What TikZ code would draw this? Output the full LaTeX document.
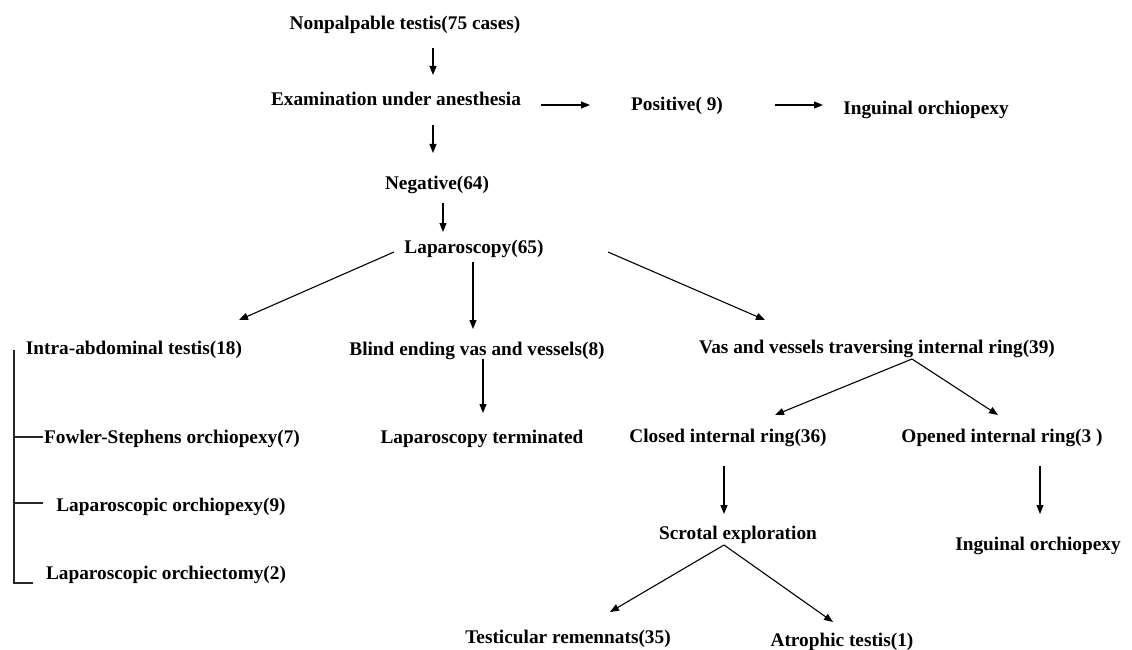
\documentclass[tikz,border=0pt]{standalone}
\usepackage{fontspec}
\setmainfont{Liberation Serif}
\usetikzlibrary{arrows.meta}
\tikzset{
  txt/.style={inner sep=0pt, anchor=base, font=\fontsize{19.3}{22}\selectfont\bfseries},
  arr/.style={line width=1.1pt, -{Triangle[length=9pt,width=7pt]}},
  brk/.style={line width=1.1pt, color=black!85}
}
\begin{document}
\begin{tikzpicture}[x=1pt,y=-1pt]
\useasboundingbox (0,0) rectangle (1132,650);
% nodes (base anchored)
\node[txt] (n1) at (405,30) {Nonpalpable testis(75 cases)};
\node[txt] (n2) at (396,106) {Examination under anesthesia};
\node[txt] (n3) at (677,111) {Positive( 9)};
\node[txt] (n4) at (926,115) {Inguinal orchiopexy};
\node[txt] (n5) at (437,189) {Negative(64)};
\node[txt] (n6) at (474,253) {Laparoscopy(65)};
\node[txt] (n7) at (134,354) {Intra-abdominal testis(18)};
\node[txt] (n8) at (477,355) {Blind ending vas and vessels(8)};
\node[txt] (n9) at (877,353) {Vas and vessels traversing internal ring(39)};
\node[txt] (n10) at (482,443) {Laparoscopy terminated};
\node[txt] (n11) at (728,442) {Closed internal ring(36)};
\node[txt] (n12) at (1002,442) {Opened internal ring(3 )};
\node[txt] (n13) at (738,539) {Scrotal exploration};
\node[txt] (n14) at (1038,550) {Inguinal orchiopexy};
\node[txt] (n15) at (568,643) {Testicular remennats(35)};
\node[txt] (n16) at (842,646) {Atrophic testis(1)};
\node[txt] (f1) at (172,443) {Fowler-Stephens orchiopexy(7)};
\node[txt] (f2) at (171,511) {Laparoscopic orchiopexy(9)};
\node[txt] (f3) at (166,579) {Laparoscopic orchiectomy(2)};
% connector end points
\coordinate (a1s) at (433,48);  \coordinate (a1e) at (433,75);
\coordinate (a2s) at (541,105); \coordinate (a2e) at (590,105);
\coordinate (a3s) at (775,105); \coordinate (a3e) at (823,105);
\coordinate (a4s) at (433,125); \coordinate (a4e) at (433,153);
\coordinate (a5s) at (443,203); \coordinate (a5e) at (443,232);
\coordinate (a6s) at (394,252); \coordinate (a6e) at (239,320);
\coordinate (a7s) at (473,262); \coordinate (a7e) at (473,329);
\coordinate (a8s) at (608,252); \coordinate (a8e) at (765,320);
\coordinate (a9s) at (483,359); \coordinate (a9e) at (483,413);
\coordinate (v) at (912,359);
\coordinate (a10e) at (775,415); \coordinate (a11e) at (998,415);
\coordinate (a12s) at (724,466); \coordinate (a12e) at (724,514);
\coordinate (a13s) at (1040,466); \coordinate (a13e) at (1040,514);
\coordinate (s) at (724,545);
\coordinate (a14e) at (610,612); \coordinate (a15e) at (833,622);
% arrows
\draw[arr] (a1s) -- (a1e);
\draw[arr] (a2s) -- (a2e);
\draw[arr] (a3s) -- (a3e);
\draw[arr] (a4s) -- (a4e);
\draw[arr] (a5s) -- (a5e);
\draw[arr] (a6s) -- (a6e);
\draw[arr] (a7s) -- (a7e);
\draw[arr] (a8s) -- (a8e);
\draw[arr] (a9s) -- (a9e);
\draw[arr] (v) -- (a10e);
\draw[arr] (v) -- (a11e);
\draw[arr] (a12s) -- (a12e);
\draw[arr] (a13s) -- (a13e);
\draw[arr] (s) -- (a14e);
\draw[arr] (s) -- (a15e);
% bracket
\coordinate (bt) at (14,350);
\coordinate (b1) at (14,437); \coordinate (b1e) at (43,437);
\coordinate (b2) at (14,503); \coordinate (b2e) at (43,503);
\coordinate (bb) at (14,583); \coordinate (bbe) at (33,583);
\draw[brk] (bt) -- (bb) -- (bbe);
\draw[brk] (b1) -- (b1e);
\draw[brk] (b2) -- (b2e);
\end{tikzpicture}
\end{document}
